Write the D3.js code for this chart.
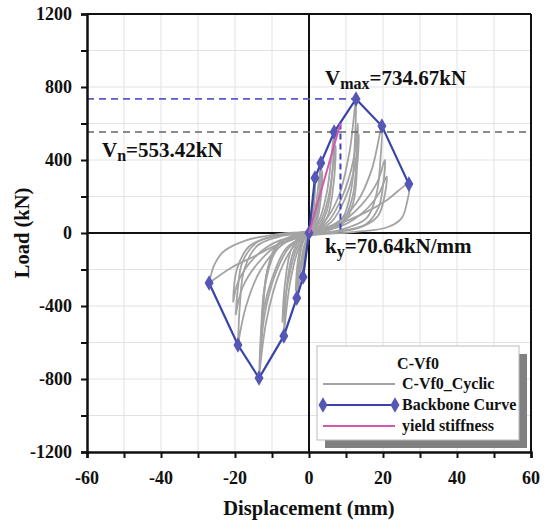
<!DOCTYPE html>
<html lang="en">
<head>
<meta charset="UTF-8">
<title>C-Vf0</title>
<style>
  html, body { margin: 0; padding: 0; background: #fff; overflow: hidden; }
  svg { display: block; }
  text { font-family: "Liberation Serif", "Times New Roman", serif; font-weight: bold; }
</style>
</head>
<body>
<svg class="chart"></svg>
<script src="https://cdnjs.cloudflare.com/ajax/libs/d3/7.8.5/d3.min.js"></script>
<script>

// ---- data ----
const xTicks = [-60, -50, -40, -30, -20, -10, 0, 10, 20, 30, 40, 50, 60];
const xLabels = [-60, -40, -20, 0, 20, 40, 60];
const yTicks = [-1200, -1000, -800, -600, -400, -200, 0, 200, 400, 600, 800, 1000, 1200];
const yLabels = [-1200, -800, -400, 0, 400, 800, 1200];

const backbone = [
  [-27, -274], [-19.2, -614], [-13.5, -795], [-6.8, -564], [-3.3, -356], [-1.6, -241],
  [0, 0], [1.6, 301], [3.2, 383], [6.8, 553], [12.7, 734.67], [19.7, 586], [27, 268]
];

const yieldLine = [[0, 0], [8.5, 600]];
const vMax = 734.67, vMaxX = 12.7;
const vN = 553.42;
const yieldX = 8.5;

// hysteresis loops of the cyclic test (one array per cycle)
const cyclic = [
  [[-1.6,-241],[-1.2,-120],[-0.5,-20],[0,10],[0.6,80],[1.2,190],[1.6,301],[1.3,170],[0.6,40],[0,-10],[-0.6,-80],[-1.2,-170],[-1.6,-241]],
  [[-1.7,-220],[-1.2,-100],[-0.4,-10],[0.3,30],[1.0,140],[1.7,270],[1.3,140],[0.5,20],[-0.3,-30],[-1.0,-120],[-1.7,-220]],
  [[-3.3,-356],[-2.9,-200],[-1.8,-60],[-0.5,0],[0.8,50],[2,170],[3.2,383],[2.9,220],[2,80],[0.5,0],[-0.8,-50],[-2,-180],[-3.3,-356]],
  [[-3.6,-320],[-3.1,-170],[-2,-50],[-0.5,0],[1,40],[2.3,150],[3.6,340],[3.2,190],[2.1,60],[0.5,0],[-1,-50],[-2.3,-170],[-3.6,-320]],
  [[-6.8,-564],[-6.2,-330],[-4.5,-120],[-2,-20],[0,5],[2.5,60],[4.8,220],[6.8,553],[6.3,330],[4.8,120],[2,15],[0,-10],[-2.5,-70],[-5,-260],[-6.8,-564]],
  [[-7.2,-490],[-6.5,-280],[-4.8,-90],[-2,-10],[0,5],[3,60],[5.3,200],[7.2,480],[6.7,280],[5,90],[2,10],[0,-10],[-3,-70],[-5.5,-250],[-7.2,-490]],
  [[-13.5,-795],[-13,-550],[-12,-300],[-9,-100],[-4,-20],[0,5],[4,60],[8,200],[11,450],[12.7,734],[12.4,500],[11.5,250],[9,80],[4,10],[0,-10],[-4,-70],[-8,-220],[-11.5,-480],[-13.5,-795]],
  [[-13.2,-700],[-12.6,-450],[-11.5,-230],[-8.5,-70],[-4,-10],[0,5],[5,60],[9,200],[12,400],[13.2,600],[12.8,400],[11.8,200],[9,60],[4,5],[0,-10],[-5,-70],[-9,-220],[-12,-450],[-13.2,-700]],
  [[-13,-620],[-12.3,-380],[-11,-180],[-8,-50],[0,0],[6,60],[10,200],[12.5,380],[13.5,540],[13,360],[12,170],[9,50],[0,-10],[-6,-80],[-10,-250],[-12.2,-420],[-13,-620]],
  [[-19.2,-614],[-18.7,-400],[-17.5,-200],[-14,-70],[-7,-15],[0,5],[7,50],[13,170],[17,350],[19.7,586],[19.3,400],[18.3,220],[15.5,80],[8,15],[0,-10],[-7,-60],[-13,-200],[-17,-400],[-19.2,-614]],
  [[-19.8,-450],[-19.2,-300],[-18,-160],[-14,-50],[-7,-10],[0,5],[8,50],[14,150],[18.5,280],[20.5,400],[20,260],[18.8,140],[15.5,50],[8,10],[0,-10],[-8,-60],[-14,-170],[-18,-300],[-19.8,-450]],
  [[-20.5,-380],[-19.5,-200],[-16,-70],[-8,-10],[0,0],[9,40],[15,120],[19,220],[21,310],[20.3,190],[18.5,90],[13,25],[0,-10],[-9,-50],[-15,-140],[-19,-260],[-20.5,-380]],
  [[-27,-274],[-25.5,-170],[-23,-100],[-17,-40],[-8,-5],[0,10],[8,50],[15,110],[21,180],[27,268],[26.5,170],[25,80],[21,30],[12,5],[0,-15],[-8,-60],[-15,-130],[-21,-190],[-27,-274]]
];

const legendTitle = 'C-Vf0';
const legendItems = ['C-Vf0_Cyclic', 'Backbone Curve', 'yield stiffness'];

// ---- layout ----
const chartWidth = 549, chartHeight = 526;
const margin = {top: 14, left: 87, right: 18, bottom: 74};
const innerWidth = chartWidth - margin.left - margin.right;
const innerHeight = chartHeight - margin.top - margin.bottom;

const svg = d3.select('.chart').attr('width', chartWidth).attr('height', chartHeight);
const chart = svg.append('g').attr('transform', `translate(${margin.left},${margin.top})`);

const xScale = d3.scaleLinear().domain([-60, 60]).range([0, innerWidth]);
const yScale = d3.scaleLinear().domain([-1200, 1200]).range([innerHeight, 0]);

// grid
chart.append('g').selectAll('line').data(xTicks).enter().append('line')
  .attr('x1', d => xScale(d)).attr('x2', d => xScale(d))
  .attr('y1', 0).attr('y2', innerHeight)
  .attr('stroke', '#e2e2e2').attr('stroke-width', 1);
chart.append('g').selectAll('line').data(yTicks).enter().append('line')
  .attr('y1', d => yScale(d)).attr('y2', d => yScale(d))
  .attr('x1', 0).attr('x2', innerWidth)
  .attr('stroke', '#e2e2e2').attr('stroke-width', 1);

// frame top/right
chart.append('line').attr('x1', 0).attr('x2', innerWidth).attr('y1', 0).attr('y2', 0)
  .attr('stroke', '#111').attr('stroke-width', 2);
chart.append('line').attr('x1', innerWidth).attr('x2', innerWidth).attr('y1', 0).attr('y2', innerHeight)
  .attr('stroke', '#111').attr('stroke-width', 2);

// zero lines
chart.append('line').attr('x1', 0).attr('x2', innerWidth).attr('y1', yScale(0)).attr('y2', yScale(0))
  .attr('stroke', '#111').attr('stroke-width', 2);
chart.append('line').attr('x1', xScale(0)).attr('x2', xScale(0)).attr('y1', 0).attr('y2', innerHeight)
  .attr('stroke', '#111').attr('stroke-width', 2);

// cyclic curves
const line = d3.line().x(d => xScale(d[0])).y(d => yScale(d[1])).curve(d3.curveCatmullRom.alpha(0.5));
chart.append('g').selectAll('path').data(cyclic).enter().append('path')
  .attr('d', line)
  .attr('fill', 'none').attr('stroke', '#a3a3a3').attr('stroke-width', 1.8);

// dashed reference lines
chart.append('line')
  .attr('x1', 0).attr('x2', innerWidth).attr('y1', yScale(vN)).attr('y2', yScale(vN))
  .attr('stroke', '#666').attr('stroke-width', 1.6).attr('stroke-dasharray', '7,5');
chart.append('line')
  .attr('x1', 0).attr('x2', xScale(vMaxX)).attr('y1', yScale(vMax)).attr('y2', yScale(vMax))
  .attr('stroke', '#5a5ac8').attr('stroke-width', 1.6).attr('stroke-dasharray', '7,5');
chart.append('line')
  .attr('x1', xScale(yieldX)).attr('x2', xScale(yieldX)).attr('y1', yScale(600)).attr('y2', yScale(0))
  .attr('stroke', '#4040c0').attr('stroke-width', 2).attr('stroke-dasharray', '6,4');

// backbone
const straight = d3.line().x(d => xScale(d[0])).y(d => yScale(d[1]));
chart.append('path').datum(backbone).attr('d', straight)
  .attr('fill', 'none').attr('stroke', '#3a44a8').attr('stroke-width', 2.2);
chart.append('g').selectAll('path').data(backbone).enter().append('path')
  .attr('transform', d => `translate(${xScale(d[0])},${yScale(d[1])})`)
  .attr('d', d3.symbol().type(d3.symbolDiamond).size(70))
  .attr('fill', '#5557b5');

// yield stiffness
chart.append('path').datum(yieldLine).attr('d', straight)
  .attr('stroke', '#d05ab0').attr('stroke-width', 2);

// axes (ticks from d3, labels drawn separately)
const xAxis = d3.axisBottom(xScale).tickValues(xTicks).tickSize(6).tickFormat('');
const gx = chart.append('g').attr('transform', `translate(0,${innerHeight})`).call(xAxis);
const yAxis = d3.axisLeft(yScale).tickValues(yTicks).tickSize(6).tickFormat('');
const gy = chart.append('g').call(yAxis);
[gx, gy].forEach(g => {
  g.select('.domain').attr('stroke', '#111').attr('stroke-width', 2.5);
  g.selectAll('.tick line').attr('stroke', '#111').attr('stroke-width', 2);
  g.selectAll('.tick text').remove();
});

chart.append('g').selectAll('text').data(xLabels).enter().append('text')
  .attr('x', d => xScale(d)).attr('y', innerHeight + 32)
  .attr('text-anchor', 'middle').style('font-size', '18px').attr('fill', '#111')
  .text(d => d);
chart.append('g').selectAll('text').data(yLabels).enter().append('text')
  .attr('x', -15).attr('y', d => yScale(d) + 6)
  .attr('text-anchor', 'end').style('font-size', '18px').attr('fill', '#111')
  .text(d => d);

// axis titles
svg.append('text').attr('x', margin.left + xScale(0)).attr('y', 515)
  .attr('text-anchor', 'middle').style('font-size', '20.5px').attr('fill', '#111')
  .text('Displacement (mm)');
svg.append('text').attr('transform', `translate(29,${margin.top + yScale(0)}) rotate(-90)`)
  .attr('text-anchor', 'middle').style('font-size', '20.5px').attr('fill', '#111')
  .text('Load (kN)');

// annotations
const ann = (x, y, main, sub, rest) => {
  const t = chart.append('text').attr('x', x).attr('y', y).attr('fill', '#111').style('font-size', '21px');
  t.append('tspan').text(main);
  t.append('tspan').attr('dy', 4).style('font-size', '16px').text(sub);
  t.append('tspan').attr('dy', -4).text(rest);
};
ann(238, 71, 'V', 'max', '=734.67kN');
ann(15, 143, 'V', 'n', '=553.42kN');
ann(238, 239, 'k', 'y', '=70.64kN/mm');

// legend
const lg = svg.append('g').attr('transform', 'translate(317,346)');
const lw = 202, lh = 94;
lg.append('rect').attr('x', 8).attr('y', 8).attr('width', lw).attr('height', lh).attr('fill', '#808080');
lg.append('rect').attr('width', lw).attr('height', lh).attr('fill', '#fff').attr('stroke', '#bbb');
lg.append('text').attr('x', 101).attr('y', 23).attr('text-anchor', 'middle')
  .style('font-size', '16px').attr('fill', '#111').text(legendTitle);
const rows = [38, 59, 80];
lg.append('line').attr('x1', 6).attr('x2', 78).attr('y1', rows[0]).attr('y2', rows[0])
  .attr('stroke', '#a3a3a3').attr('stroke-width', 1.8);
lg.append('line').attr('x1', 6).attr('x2', 78).attr('y1', rows[1]).attr('y2', rows[1])
  .attr('stroke', '#3a44a8').attr('stroke-width', 2.2);
[6, 78].forEach(x => lg.append('path').attr('transform', `translate(${x},${rows[1]})`)
  .attr('d', d3.symbol().type(d3.symbolDiamond).size(70)).attr('fill', '#5557b5'));
lg.append('line').attr('x1', 6).attr('x2', 78).attr('y1', rows[2]).attr('y2', rows[2])
  .attr('stroke', '#d05ab0').attr('stroke-width', 2);
lg.selectAll('text.item').data(legendItems).enter().append('text').attr('class', 'item')
  .attr('x', 85).attr('y', (d, i) => rows[i] + 5)
  .style('font-size', '16px').attr('fill', '#111').text(d => d);

</script>
</body>
</html>
